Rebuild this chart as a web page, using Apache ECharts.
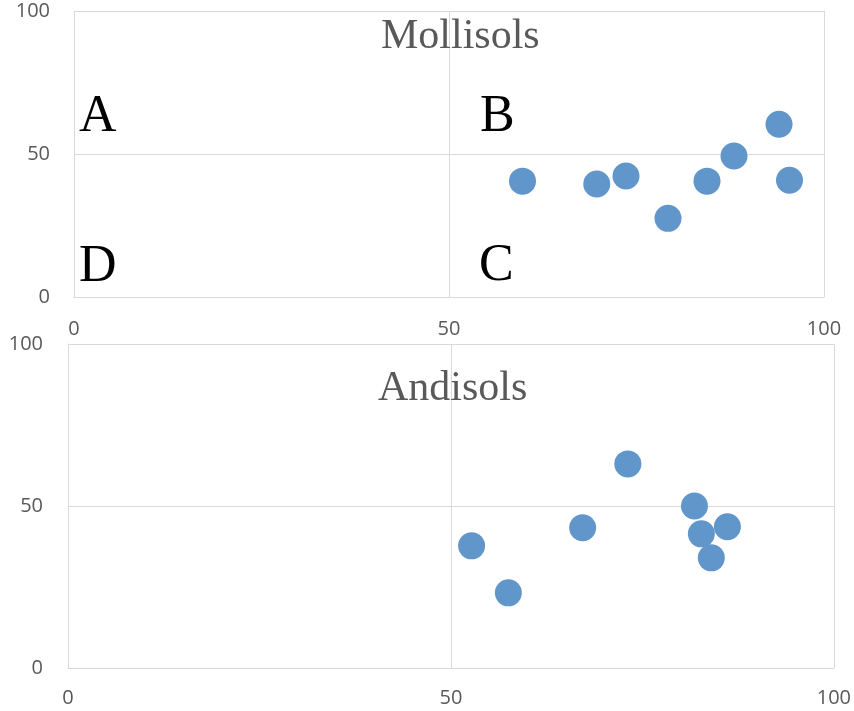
<!DOCTYPE html>
<html>
<head>
<meta charset="utf-8">
<script src="https://cdn.jsdelivr.net/npm/echarts@6/dist/echarts.min.js"></script>
<style>
html,body{margin:0;padding:0;background:#fff;}
#chart{width:854px;height:711px;}
</style>
</head>
<body>
<div id="chart"></div>
<script>
const panelTitles = ['Mollisols', 'Andisols'];
const quadrantLabels = ['A', 'B', 'C', 'D'];
const mollisolsX = [59.8, 69.7, 73.6, 79.2, 84.4, 88.0, 94.0, 95.4];
const mollisolsY = [40.5, 39.5, 42.3, 27.5, 40.5, 49.3, 60.4, 40.8];
const andisolsX = [52.7, 57.5, 67.2, 73.1, 81.8, 82.7, 86.1, 84.0];
const andisolsY = [37.7, 23.2, 43.3, 63.0, 50.0, 41.4, 43.6, 34.0];
const axisMin = 0, axisMax = 100, axisStep = 50;

const gridColor = '#d9d9d9';
const labelColor = '#595959';
const dotColor = '#6096c9';

function valueAxis(gridIndex, margin, isY) {
  return {
    type: 'value', gridIndex: gridIndex,
    min: axisMin, max: axisMax, interval: axisStep,
    axisLine: { show: true, lineStyle: { color: gridColor, width: 1 } },
    axisTick: { show: false },
    splitLine: { show: true, lineStyle: { color: gridColor, width: 1 } },
    axisLabel: { color: labelColor, fontSize: 20, fontFamily: 'Open Sans', margin: margin,
                 padding: isY ? [6, 0, 0, 0] : 0 }
  };
}

const chart = echarts.init(document.getElementById('chart'), null, { renderer: 'canvas' });
chart.setOption({
  animation: false,
  backgroundColor: '#ffffff',
  title: [
    { text: panelTitles[0], left: 381, top: 16, padding: 0,
      textStyle: { fontFamily: 'Liberation Serif', fontSize: 42, fontWeight: 'normal', color: labelColor } },
    { text: panelTitles[1], left: 378, top: 368, padding: 0,
      textStyle: { fontFamily: 'Liberation Serif', fontSize: 42, fontWeight: 'normal', color: labelColor } }
  ],
  grid: [
    { left: 74, right: 30, top: 11, height: 286, containLabel: false },
    { left: 68, right: 17, top: 344, height: 324, containLabel: false }
  ],
  xAxis: [valueAxis(0, 22, false), valueAxis(1, 20, false)],
  yAxis: [valueAxis(0, 24, true), valueAxis(1, 25, true)],
  graphic: [
    { type: 'text', left: 79, top: 91, style: { text: quadrantLabels[0], fontFamily: 'Liberation Serif', fontSize: 52, fill: '#000' } },
    { type: 'text', left: 480, top: 91, style: { text: quadrantLabels[1], fontFamily: 'Liberation Serif', fontSize: 52, fill: '#000' } },
    { type: 'text', left: 479, top: 240, style: { text: quadrantLabels[2], fontFamily: 'Liberation Serif', fontSize: 52, fill: '#000' } },
    { type: 'text', left: 79, top: 241, style: { text: quadrantLabels[3], fontFamily: 'Liberation Serif', fontSize: 52, fill: '#000' } }
  ],
  series: [
    { type: 'scatter', xAxisIndex: 0, yAxisIndex: 0, symbolSize: 27,
      itemStyle: { color: dotColor, opacity: 1 },
      data: mollisolsX.map((x, i) => [x, mollisolsY[i]]) },
    { type: 'scatter', xAxisIndex: 1, yAxisIndex: 1, symbolSize: 27,
      itemStyle: { color: dotColor, opacity: 1 },
      data: andisolsX.map((x, i) => [x, andisolsY[i]]) }
  ]
});
</script>
</body>
</html>
